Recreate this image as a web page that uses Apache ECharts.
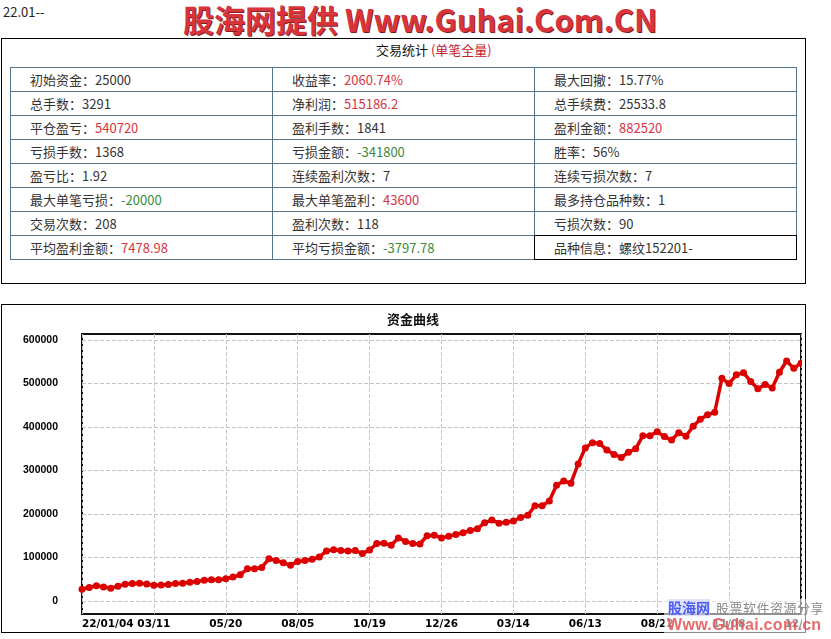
<!DOCTYPE html>
<html>
<head>
<meta charset="utf-8">
<script src="https://cdn.jsdelivr.net/npm/echarts@6/dist/echarts.min.js"></script>
<style>
  body {
    margin: 0;
    width: 831px;
    height: 639px;
    background: #fff;
    font-family: "Noto Sans CJK SC", sans-serif;
    position: relative;
    overflow: hidden;
  }
  .period {
    position: absolute;
    left: 3px;
    top: 2px;
    font-size: 13px;
    color: #222;
  }
  .site {
    position: absolute;
    left: 183px;
    top: -4px;
    font-size: 31px;
    font-weight: bold;
    color: #d7343c;
    text-shadow: 1px 1px 0 #8a1c1c;
    white-space: nowrap;
  }
  .box {
    position: absolute;
    box-sizing: border-box;
    border: 1px solid #000;
    background: #fff;
  }
  .stats-title {
    position: absolute;
    left: 376px;
    top: 40px;
    font-size: 13px;
    color: #111;
  }
  .stats-title span {
    color: #c8202a;
  }
  table.stats {
    position: absolute;
    left: 10px;
    top: 67px;
    width: 787px;
    border-collapse: collapse;
    table-layout: fixed;
  }
  table.stats td {
    height: 23px;
    line-height: 23px;
    padding: 0 0 0 19px;
    border: 1px solid #56758e;
    font-size: 13px;
    color: #333;
    white-space: nowrap;
  }
  .red { color: #d8343f; }
  .green { color: #3a8a3a; }
  .mark {
    position: absolute;
    left: 534px;
    top: 235px;
    width: 263px;
    height: 25px;
    box-sizing: border-box;
    border: 1px solid #000;
  }
  #equity-chart {
    position: absolute;
    left: 2px;
    top: 305px;
    width: 800px;
    height: 327px;
  }
  .wm {
    position: absolute;
    left: 664px;
    top: 599px;
    width: 167px;
    height: 37px;
    background: rgba(255, 255, 255, 0.55);
    pointer-events: none;
  }
  .wm-a {
    position: absolute;
    left: 4px;
    top: 0px;
    font-size: 14px;
    font-weight: bold;
    color: #4a5cf0;
    background: rgba(200, 205, 255, 0.6);
    line-height: 17px;
  }
  .wm-b {
    position: absolute;
    left: 52px;
    top: 0px;
    font-size: 13px;
    letter-spacing: 0.5px;
    color: #8a8a8a;
    line-height: 17px;
  }
  .wm-c {
    position: absolute;
    left: 3px;
    top: 17px;
    font-family: "Liberation Sans", sans-serif;
    font-size: 16px;
    font-weight: bold;
    letter-spacing: 0.3px;
    color: rgba(228, 80, 80, 0.85);
    line-height: 18px;
  }
</style>
</head>
<body>
<div class="period">22.01--</div>
<div class="site">股海网提供 Www.Guhai.Com.CN</div>

<div class="box" style="left:1px;top:38px;width:805px;height:246px;"></div>
<div class="stats-title">交易统计 <span>(单笔全量)</span></div>
<table class="stats">
  <tr><td>初始资金：25000</td><td>收益率：<span class="red">2060.74%</span></td><td>最大回撤：15.77%</td></tr>
  <tr><td>总手数：3291</td><td>净利润：<span class="red">515186.2</span></td><td>总手续费：25533.8</td></tr>
  <tr><td>平仓盈亏：<span class="red">540720</span></td><td>盈利手数：1841</td><td>盈利金额：<span class="red">882520</span></td></tr>
  <tr><td>亏损手数：1368</td><td>亏损金额：<span class="green">-341800</span></td><td>胜率：56%</td></tr>
  <tr><td>盈亏比：1.92</td><td>连续盈利次数：7</td><td>连续亏损次数：7</td></tr>
  <tr><td>最大单笔亏损：<span class="green">-20000</span></td><td>最大单笔盈利：<span class="red">43600</span></td><td>最多持仓品种数：1</td></tr>
  <tr><td>交易次数：208</td><td>盈利次数：118</td><td>亏损次数：90</td></tr>
  <tr><td>平均盈利金额：<span class="red">7478.98</span></td><td>平均亏损金额：<span class="green">-3797.78</span></td><td>品种信息：螺纹152201-</td></tr>
</table>
<div class="mark"></div>

<div class="box" style="left:1px;top:304px;width:805px;height:329px;"></div>
<div id="equity-chart"></div>

<div class="wm">
  <div class="wm-a">股海网</div>
  <div class="wm-b">股票软件资源分享</div>
  <div class="wm-c">Www.Guhai.com.cn</div>
</div>

<script>
// x 轴刻度标签（每 10 个点一个）
const tickLabels = ["22/01/04", "03/11", "05/20", "08/05", "10/19", "12/26",
  "03/14", "06/13", "08/22", "11/08", "12/27"];
const pointsPerTick = 10;

// 资金曲线
const equity = [
  27000, 31000, 34800, 32000, 29500, 34000, 38600, 40000, 40500, 39000,
  36000, 36500, 38000, 40000, 41000, 43000, 45000, 47500, 48500, 49000,
  51000, 55000, 60000, 74000, 74300, 77000, 97000, 93000, 88000, 82000,
  91000, 93000, 96000, 101000, 115000, 118000, 116000, 115000, 116000, 109000,
  117000, 132000, 133000, 128000, 145000, 137000, 132000, 131000, 150000, 151000,
  145000, 149000, 153000, 157000, 162000, 166000, 180000, 186000, 179000, 181000,
  184000, 192000, 197000, 219000, 219000, 230000, 266000, 276000, 271000, 315000,
  352000, 364000, 362000, 347000, 337000, 330000, 342000, 350000, 380000, 380000,
  389000, 378000, 370000, 387000, 379000, 402000, 418000, 428000, 434000, 512000,
  500000, 520000, 525000, 505000, 488000, 498000, 490000, 526000, 552000, 535000,
  547000
];

const yTickValues = [0, 100000, 200000, 300000, 400000, 500000, 600000];

const categories = equity.map((v, i) => String(i));

const chartInstance = echarts.init(document.getElementById("equity-chart"));
chartInstance.setOption({
  animation: false,
  title: {
    text: "资金曲线",
    left: 380,
    top: 3,
    textStyle: {
      fontFamily: "Noto Sans CJK SC",
      fontSize: 13,
      fontWeight: "bold",
      color: "#111",
    },
  },
  grid: {
    left: 80,
    right: 1,
    top: 29,
    bottom: 18,
    show: true,
    borderColor: "#111",
    borderWidth: 2,
    containLabel: false,
    outerBoundsMode: "none",
  },
  xAxis: {
    type: "category",
    boundaryGap: false,
    data: categories,
    axisLine: { show: false },
    axisTick: { show: false },
    axisLabel: {
      interval: pointsPerTick - 1,
      formatter: (val, idx) => tickLabels[idx / pointsPerTick] || "",
      fontFamily: "DejaVu Sans",
      fontWeight: "bold",
      fontSize: 10.5,
      color: "#000",
      margin: 5,
      showMinLabel: true,
      showMaxLabel: true,
      alignMinLabel: "left",
      alignMaxLabel: "center",
    },
    splitLine: {
      show: true,
      interval: pointsPerTick - 1,
      lineStyle: { color: "#c4c4c4", type: "dashed", width: 1 },
    },
  },
  yAxis: {
    type: "value",
    min: -30000,
    max: 614000,
    axisLine: { show: false },
    axisTick: { show: false, customValues: yTickValues },
    axisLabel: {
      customValues: yTickValues,
      formatter: (val) => String(val),
      fontFamily: "Liberation Sans",
      fontWeight: "bold",
      fontSize: 10.5,
      color: "#000",
      margin: 24,
    },
    splitLine: {
      show: true,
      lineStyle: { color: "#c4c4c4", type: "dashed", width: 1 },
    },
  },
  series: [
    {
      type: "line",
      data: equity,
      color: "#dd0000",
      showAllSymbol: true,
      symbol: "circle",
      symbolSize: 7,
      lineStyle: { width: 3.5, color: "#dd0000" },
      itemStyle: { color: "#dd0000" },
    },
  ],
});
</script>
</body>
</html>
